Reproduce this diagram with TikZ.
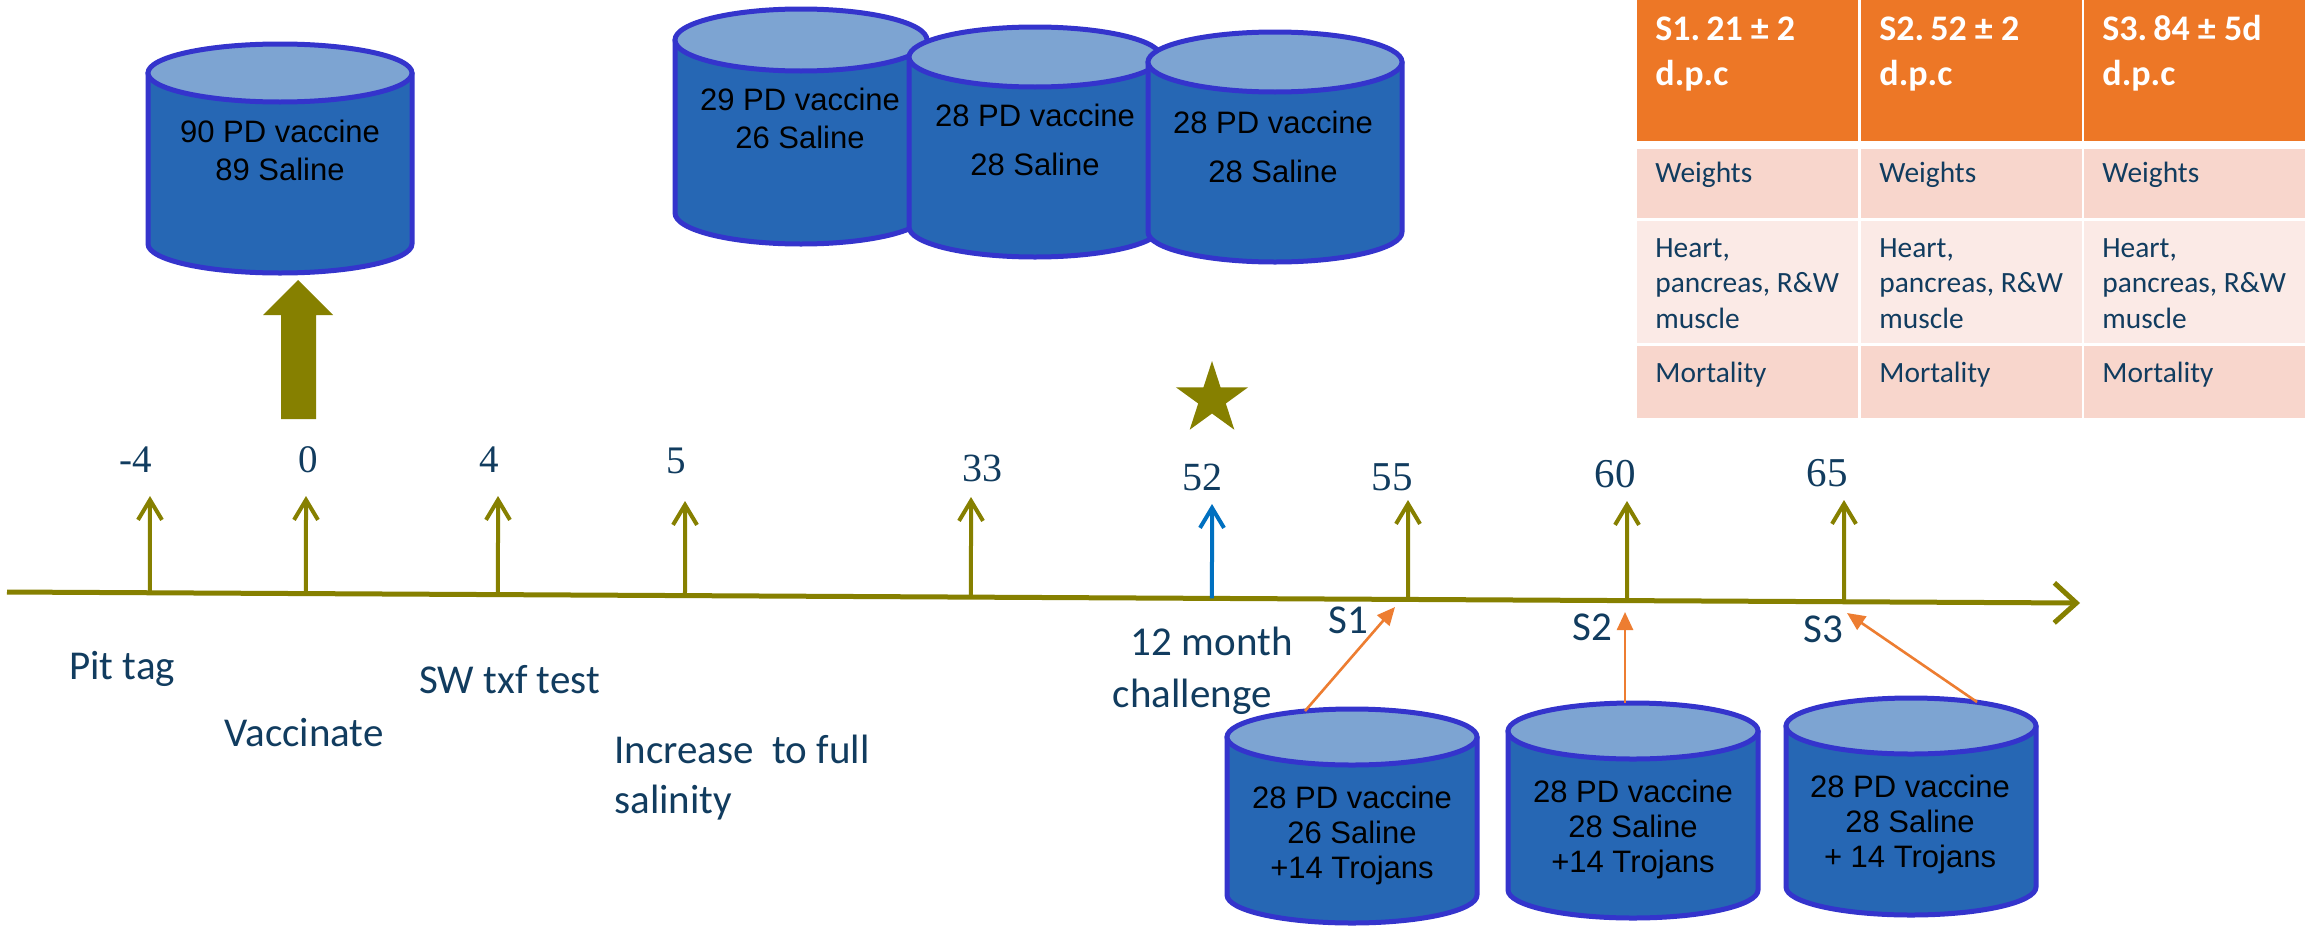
\documentclass[tikz,border=0pt]{standalone}
\usepackage{fontspec}
\setmainfont{Carlito}
\newfontfamily\numfont{Liberation Serif}
\newfontfamily\tankfont{Liberation Sans}
\usetikzlibrary{arrows.meta,shapes.geometric,calc}
\definecolor{timeolive}{RGB}{134,128,0}
\definecolor{navytext}{RGB}{17,60,95}
\definecolor{tickblue}{RGB}{0,112,192}
\definecolor{arroworange}{RGB}{237,125,49}
\definecolor{tankside}{RGB}{38,103,180}
\definecolor{tanklid}{RGB}{125,164,210}
\definecolor{tankline}{RGB}{52,52,204}
\definecolor{hdrfill}{RGB}{237,119,38}
\definecolor{rowA}{RGB}{248,214,204}
\definecolor{rowB}{RGB}{251,234,230}
\newcommand{\drawtank}[5]{%
  \filldraw[tankbody] ({#1-#4},#2) -- ({#1-#4},#3) arc[start angle=180,end angle=0,x radius=#4,y radius=#5] -- ({#1+#4},#2) -- cycle;
  \filldraw[tanktop] (#1,#2) ellipse[x radius=#4,y radius=#5];
}
\begin{document}
\begin{tikzpicture}[x=0.5pt,y=-0.5pt,
  tankbody/.style={fill=tankside,draw=tankline,line width=2.5pt,line join=round},
  tanktop/.style={fill=tanklid,draw=tankline,line width=2.5pt},
  tickarrow/.style={draw=timeolive,line width=2pt,-{Straight Barb[length=10pt,width=12pt]}},
  bluearrow/.style={draw=tickblue,line width=2pt,-{Straight Barb[length=10pt,width=12pt]}},
  orangearrow/.style={draw=arroworange,line width=1.3pt,-{Triangle[length=9pt,width=8pt]}},
  timeline/.style={draw=timeolive,line width=2.5pt,-{Straight Barb[length=11pt,width=20pt]}},
  lbl/.style={font=\fontsize{20.5}{24}\selectfont,text=navytext,inner sep=0pt},
  tanktext/.style={font=\tankfont\fontsize{15.5}{18}\selectfont,text=black,anchor=base,inner sep=0pt},
  hdr/.style={font=\bfseries\fontsize{18}{22}\selectfont,text=white,anchor=base west,inner sep=0pt},
  cell/.style={font=\fontsize{14.7}{17.75}\selectfont,text=navytext,anchor=base west,inner sep=0pt}
]
\useasboundingbox (0,0) rectangle (2311,926);
\fill[white] (0,0) rectangle (2311,926);

% ---------- table ----------
\foreach \c/\xl/\hd in {1/1637/{S1.\,21 ± 2},2/1861/{S2.\,52 ± 2},3/2084/{S3.\,84 ± 5d}}{
  \fill[hdrfill] (\xl,0) rectangle ++(221,141);
  \fill[rowA] (\xl,149) rectangle ++(221,69);
  \fill[rowB] (\xl,221) rectangle ++(221,122);
  \fill[rowA] (\xl,346) rectangle ++(221,72);
  \node[hdr] (hd\c-1) at ({\xl+18},40) {\hd};
  \node[hdr] (hd\c-2) at ({\xl+18},85) {d.p.c};
  \node[cell] (w\c) at ({\xl+18},182) {Weights};
  \node[cell] (o\c-1) at ({\xl+18},257) {Heart,};
  \node[cell] (o\c-2) at ({\xl+18},292.5) {pancreas, R\&W};
  \node[cell] (o\c-3) at ({\xl+18},328) {muscle};
  \node[cell] (m\c) at ({\xl+18},382) {Mortality};
}

% ---------- tanks at top ----------
\drawtank{280}{73}{244}{132}{29}
\node[tanktext] (t0a) at (280,142) {90 PD vaccine};
\node[tanktext] (t0b) at (280,180) {89 Saline};

\drawtank{801}{40}{213}{126}{31}
\node[tanktext] (tAa) at (800,110) {29 PD vaccine};
\node[tanktext] (tAb) at (800,148) {26 Saline};
\drawtank{1035}{57}{227}{126}{30}
\node[tanktext] (tBa) at (1035,126) {28 PD vaccine};
\node[tanktext] (tBb) at (1035,175) {28 Saline};
\drawtank{1275}{62}{232}{127}{30}
\node[tanktext] (tCa) at (1273,133) {28 PD vaccine};
\node[tanktext] (tCb) at (1273,182) {28 Saline};

% big arrow
\fill[timeolive] (281,419) -- (281,315) -- (263,315) -- (298,280) -- (333,315) -- (316,315) -- (316,419) -- cycle;

% star
\node[star,star points=5,star point ratio=2.618,fill=timeolive,minimum size=38pt,inner sep=0pt] (star) at (1212,399) {};

% ---------- timeline ----------
\coordinate (tl0) at (7,592);
\coordinate (tl1) at (2080,603);
\draw[timeline] (tl0) -- (tl1);

\foreach \i/\x/\tip/\lab/\lx/\ly/\fs in {1/150/496/-4/136/472/19.5, 2/306/496/0/308/472/19.5, 3/498/496/4/489/472/19.5, 4/685/501/5/676/473/19.5, 5/971/497/33/982/481/20, 7/1408/500/55/1392/490/20.5, 8/1627/501/60/1615/487/20.5, 9/1844/500/65/1827/486/20.5}{
  \coordinate (b\i) at ($(tl0)!{(\x-7)/2073}!(tl1)$);
  \coordinate (p\i) at (\x,\tip);
  \draw[tickarrow] (b\i) -- (p\i);
  \node[font=\numfont\fontsize{\fs}{\fs}\selectfont,text=navytext,anchor=base,inner sep=0pt] (n\i) at (\lx,\ly) {\lab};
}
\coordinate (b6) at ($(tl0)!{(1212-7)/2073}!(tl1)$);
\coordinate (p6) at (1212,504);
\draw[bluearrow] (b6) -- (p6);
\node[font=\numfont\fontsize{20}{20}\selectfont,text=navytext,anchor=base,inner sep=0pt] (n6) at (1202,490) {52};

% labels below
\node[lbl,anchor=base west] (pit) at (69,679) {Pit tag};
\node[lbl,anchor=base west] (vac) at (224,746) {Vaccinate};
\node[lbl,anchor=base west] (sw) at (419,693) {SW txf test};
\node[lbl,anchor=base west] (inc1) at (614,763) {Increase~ to full};
\node[lbl,anchor=base west] (inc2) at (614,813) {salinity};
\node[lbl,anchor=base east] (ch1) at (1293,655) {12 month};
\node[lbl,anchor=base east] (ch2) at (1272,707) {challenge};
\node[lbl,anchor=base west] (s1) at (1328,633) {S1};
\node[lbl,anchor=base west] (s2) at (1572,640) {S2};
\node[lbl,anchor=base west] (s3) at (1803,642) {S3};

% ---------- tanks at bottom ----------
\drawtank{1352}{737}{895}{125}{28}
\node[tanktext] (tDa) at (1352,808) {28 PD vaccine};
\node[tanktext] (tDb) at (1352,843) {26 Saline};
\node[tanktext] (tDc) at (1352,878) {+14 Trojans};
\drawtank{1633}{731}{890}{125}{28}
\node[tanktext] (tEa) at (1633,802) {28 PD vaccine};
\node[tanktext] (tEb) at (1633,837) {28 Saline};
\node[tanktext] (tEc) at (1633,872) {+14 Trojans};
\drawtank{1911}{726}{887}{125}{28}
\node[tanktext] (tFa) at (1910,797) {28 PD vaccine};
\node[tanktext] (tFb) at (1910,832) {28 Saline};
\node[tanktext] (tFc) at (1910,867) {+ 14 Trojans};

% orange arrows
\coordinate (o1s) at (1305,711);
\coordinate (o1e) at (1395,607);
\coordinate (o2s) at (1625,703);
\coordinate (o2e) at (1625,612);
\coordinate (o3s) at (1977,702);
\coordinate (o3e) at (1847,613);
\draw[orangearrow] (o1s) -- (o1e);
\draw[orangearrow] (o2s) -- (o2e);
\draw[orangearrow] (o3s) -- (o3e);
\end{tikzpicture}
\end{document}
